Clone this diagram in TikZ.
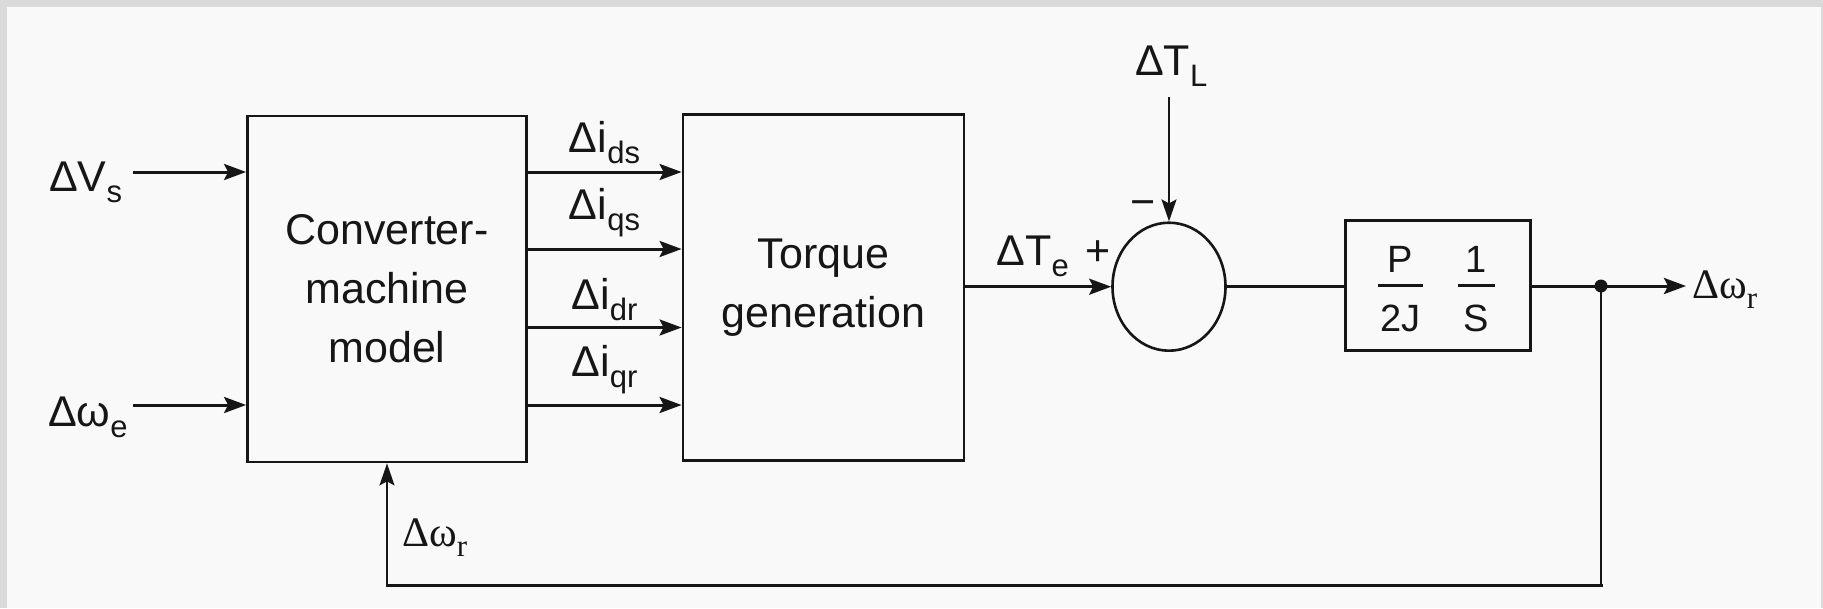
\documentclass[tikz,border=0pt]{standalone}
\usepackage{fontspec}
\setmainfont{Liberation Sans}
\newfontfamily\serifgr{Liberation Serif}
\usetikzlibrary{arrows.meta,shapes.geometric}
\definecolor{ink}{RGB}{22,22,22}
\definecolor{paper}{RGB}{249,249,249}
\definecolor{framegray}{RGB}{218,218,218}
\newcommand{\sbx}[1]{\raisebox{-11pt}{\fontsize{31}{31}\selectfont #1}}
\newcommand{\sbr}[1]{\raisebox{-10pt}{\fontsize{31}{31}\selectfont #1}}
\begin{document}
\begin{tikzpicture}[x=1pt,y=-1pt,
  every node/.style={inner sep=0pt,text=ink},
  mainfont/.style={font=\fontsize{43}{59}\selectfont},
  blk/.style={draw=ink,line width=2.8pt,align=center,mainfont},
  lbl/.style={mainfont},
  fracfont/.style={font=\fontsize{38}{38}\selectfont},
  serlbl/.style={font=\serifgr\fontsize{42}{42}\selectfont},
  arr/.style={draw=ink,line width=3pt,-{Stealth[length=22pt,width=16pt,inset=4pt]}},
  thinarr/.style={draw=ink,line width=1.8pt,-{Stealth[length=22pt,width=15pt,inset=4pt]}},
  thinln/.style={draw=ink,line width=1.8pt},
  thickln/.style={draw=ink,line width=3pt},
  barln/.style={draw=ink,line width=2.6pt}]
\useasboundingbox (0,0) rectangle (1823,608);
% paper and scan frame
\fill[paper] (0,0) rectangle (1823,608);
\fill[framegray] (0,0) rectangle (1823,7);
\fill[framegray] (0,0) rectangle (7,608);
\fill[framegray] (1821,0) rectangle (1823,608);

% blocks
\node[blk,minimum width=279pt,minimum height=346pt] (conv) at (387,289) {Converter-\\machine\\model};
\node[blk,minimum width=281pt,minimum height=346pt] (torque) at (823.5,287.3) {Torque\\generation};
\node[draw=ink,line width=2.6pt,ellipse,minimum width=113pt,minimum height=128pt] (sum) at (1169,286.7) {};
\node[draw=ink,line width=2.8pt,minimum width=185pt,minimum height=129.5pt] (gain) at (1438,285.5) {};

% fraction contents
\node[fracfont] (fp) at (1400.5,259.5) {P};
\node[fracfont] (f2j) at (1400.5,318) {2J};
\node[fracfont] (f1) at (1476,259.5) {1};
\node[fracfont] (fs) at (1476,318) {S};
\coordinate (b1l) at (1378,285.7); \coordinate (b1r) at (1423,285.7);
\coordinate (b2l) at (1458,285.7); \coordinate (b2r) at (1495,285.7);
\draw[barln] (b1l) -- (b1r);
\draw[barln] (b2l) -- (b2r);

% input labels and arrows
\node[lbl,anchor=base west] (vs) at (49,191.7) {ΔV\sbx{s}};
\node[lbl,anchor=base west] (we) at (48,426) {Δω\sbx{e}};
\coordinate (vsin) at (133,172);
\coordinate (wein) at (133,405);
\draw[arr] (vsin) -- (conv.west |- vsin);
\draw[arr] (wein) -- (conv.west |- wein);

% current arrows
\coordinate (y1) at (0,172);
\coordinate (y2) at (0,249);
\coordinate (y3) at (0,327.5);
\coordinate (y4) at (0,405);
\draw[arr] (conv.east |- y1) -- (torque.west |- y1);
\draw[arr] (conv.east |- y2) -- (torque.west |- y2);
\draw[arr] (conv.east |- y3) -- (torque.west |- y3);
\draw[arr] (conv.east |- y4) -- (torque.west |- y4);
\node[lbl,anchor=base] (ids) at (604.5,152) {Δi\sbx{ds}};
\node[lbl,anchor=base] (iqs) at (604.5,219) {Δi\sbx{qs}};
\node[lbl,anchor=base] (idr) at (604.5,309) {Δi\sbx{dr}};
\node[lbl,anchor=base] (iqr) at (604.5,376) {Δi\sbx{qr}};

% torque to summing junction
\draw[arr] (torque.east |- sum.west) -- (sum.west);
\node[lbl,anchor=base west] (te) at (996.5,265) {ΔT\sbx{e}};
\node[lbl] (plus) at (1098,253) {+};
\node[lbl,anchor=base west] (tl) at (1135,75) {ΔT\sbx{L}};
\coordinate (tltop) at (1169,97);
\draw[thinarr] (tltop) -- (sum.north);
\node[lbl] (minus) at (1143,209) {−};

% summing junction to gain
\draw[thickln] (sum.east) -- (gain.west |- sum.east);

% output
\node[serlbl,anchor=base west] (wout) at (1692,298) {Δω\sbr{r}};
\coordinate (outend) at (1686,286);
\draw[arr] (gain.east |- outend) -- (outend);
\node[circle,fill=ink,minimum size=13pt] (dot) at (1601,286) {};

% feedback
\coordinate (fbr) at (1601,585);
\coordinate (fbl) at (387,585);
\draw[thinln] (dot.center) -- (fbr);
\draw[thickln,line cap=rect] (fbr) -- (fbl);
\draw[thinarr] (fbl) -- (conv.south);
\node[serlbl,anchor=base west] (wfb) at (402,546) {Δω\sbr{r}};
\end{tikzpicture}
\end{document}
